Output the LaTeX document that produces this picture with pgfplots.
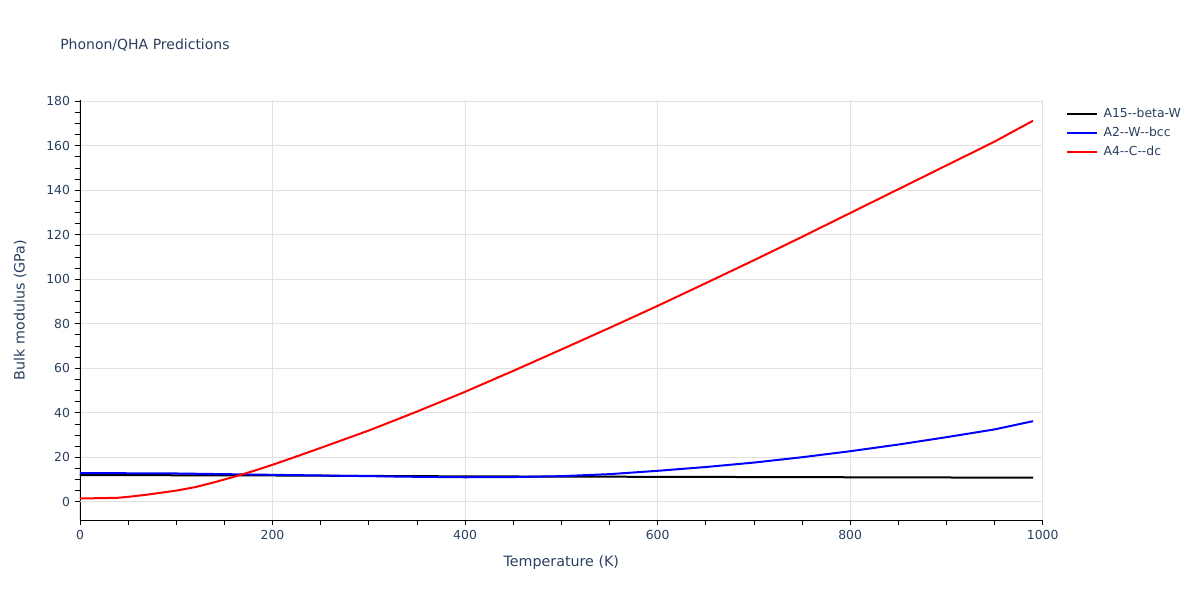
\documentclass[border=0pt]{standalone}
\usepackage{pgfplots}
\pgfplotsset{compat=1.18}
\usepackage{fontspec}
\setmainfont{DejaVu Sans}
\definecolor{plotlytext}{RGB}{42,63,95}
\definecolor{gridc}{RGB}{225,225,225}
\definecolor{zeroc}{RGB}{210,210,210}

\begin{document}
\begin{tikzpicture}
\path[use as bounding box] (-60pt,-60pt) rectangle (840pt,390pt);
\node[anchor=west, inner sep=0pt, text=plotlytext, font=\fontsize{10.5}{12}\selectfont] at (-15pt,356pt) {Phonon/QHA Predictions};
\begin{axis}[
    at={(0,0)}, anchor=south west,
    scale only axis, width=722pt, height=315pt,
    xmin=0, xmax=1000, ymin=-8.2, ymax=180.5,
    axis x line*=bottom, axis y line*=left,
    axis line style={black, line width=0.6pt},
    xtick={0,200,...,1000}, minor x tick num=3,
    ytick={0,20,...,180}, minor y tick num=3,
    tick align=outside,
    major tick length=4pt, minor tick length=4pt,
    tick style={black, line width=0.5pt},
    grid=major,
    major grid style={gridc, line width=0.75pt},
    extra y ticks={0}, extra y tick labels={},
    extra y tick style={grid style={zeroc, line width=1.5pt}, major tick length=0pt},
    ticklabel style={text=plotlytext, font=\fontsize{9.3}{10}\selectfont},
    /pgf/number format/assume math mode=true,
    /pgf/number format/1000 sep={},
    xlabel={Temperature (K)}, ylabel={Bulk modulus (GPa)},
    label style={text=plotlytext, font=\fontsize{10.7}{12}\selectfont},
    xlabel style={at={(axis description cs:0.5,-0.102)}, anchor=center},
    ylabel style={at={(axis description cs:-0.0623,0.5)}, anchor=center, rotate=0},
    legend style={draw=none, fill=none, at={(1.02,0.993)}, anchor=north west,
        font=\fontsize{9.3}{10}\selectfont, text=plotlytext, row sep=1.5pt},
    legend cell align=left,
    legend image code/.code={\draw[#1] (0pt,0pt) -- (22pt,0pt); \path (24.5pt,0pt);},
    every axis plot/.append style={line width=1.5pt, line join=round},
]
\addplot[black] coordinates {
(0,12.0) (100,11.9) (200,11.8) (300,11.6) (400,11.4) (500,11.3)
(600,11.2) (700,11.1) (800,11.0) (900,10.9) (990,10.8)
};
\addlegendentry{A15-{}-beta-W}
\addplot[blue] coordinates {
(0,12.9) (50,12.8) (100,12.7) (150,12.4) (200,12.1) (250,11.8) (300,11.5)
(350,11.2) (400,11.0) (450,11.1) (500,11.5) (550,12.4) (600,13.9) (650,15.6)
(700,17.6) (750,20.0) (800,22.7) (850,25.7) (900,29.0) (950,32.5) (990,36.2)
};
\addlegendentry{A2-{}-W-{}-bcc}
\addplot[red] coordinates {
(0,1.5) (20,1.6) (40,1.8) (50,2.2) (60,2.7) (70,3.2) (80,3.8) (100,5.0)
(120,6.6) (140,8.8) (160,11.2) (180,13.8) (200,16.6) (220,19.6) (250,24.2)
(300,32.0) (350,40.5) (400,49.4) (450,58.8) (500,68.4) (550,78.1) (600,88.0)
(650,98.2) (700,108.5) (750,119.0) (800,129.7) (850,140.4) (900,151.1)
(950,161.8) (990,171.2)
};
\addlegendentry{A4-{}-C-{}-dc}
\end{axis}
\end{tikzpicture}
\end{document}
